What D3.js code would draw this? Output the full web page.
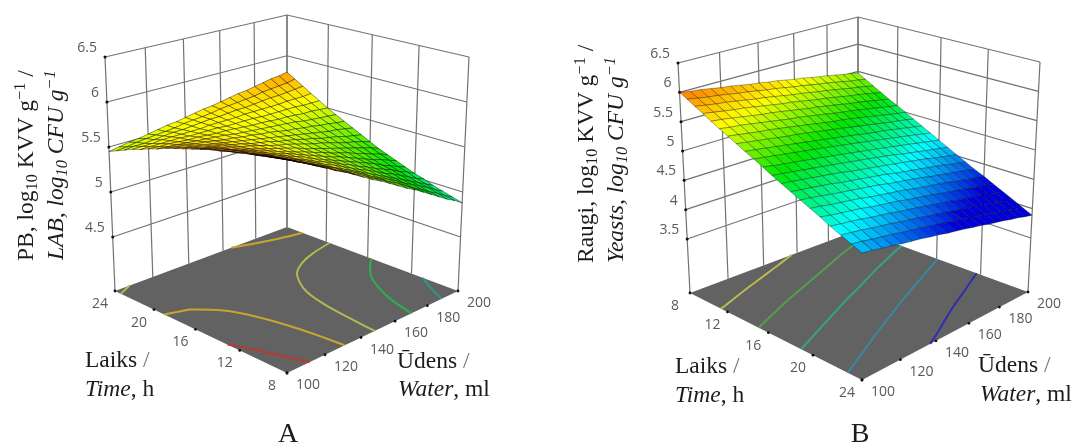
<!DOCTYPE html>
<html>
<head>
<meta charset="utf-8">
<script src="https://cdnjs.cloudflare.com/ajax/libs/d3/7.8.5/d3.min.js"></script>
<style>
  html, body { margin: 0; padding: 0; background: #fff; }
  svg { display: block; }
  .tick { font-family: "Open Sans", "Noto Sans", sans-serif; font-size: 14px; fill: #5a5a5a; }
  .lab { font-family: "Liberation Serif", serif; fill: #1c1c1c; }
</style>
</head>
<body>
<div id="chart"></div>
<script>
// tick labels shared by the two panels
var waterTicks = [100, 120, 140, 160, 180, 200];
var timeTicks = [8, 12, 16, 20, 24];
var zTicksA = [4.5, 5, 5.5, 6, 6.5];
var zTicksB = [3.5, 4, 4.5, 5, 5.5, 6, 6.5];

// contour levels on the floor and the colour each one is drawn with
var levelsA = [5, 5.23, 5.48, 5.68, 5.9];
var levelColorsA = ["#2c9a8a", "#2fae50", "#b4b84f", "#c8a52e", "#b53a2f"];
var levelsB = [4.32, 4.67, 5.02, 5.37, 5.7];
var levelColorsB = ["#2f2fae", "#3a86a0", "#35a38a", "#4fa14a", "#b9b94f"];

// surface A. one row per time step (8 to 24 h), one column per water step (100 to 200 ml)
var surfaceA = [
  [6.03,5.97,5.92,5.86,5.80,5.74,5.69,5.63,5.57,5.51,5.46,5.40,5.34,5.28,5.23,5.17,5.11,5.05,4.99,4.94,4.88],
  [6.01,5.96,5.90,5.85,5.79,5.74,5.68,5.63,5.57,5.52,5.46,5.41,5.35,5.30,5.24,5.18,5.13,5.07,5.02,4.96,4.91],
  [5.99,5.94,5.89,5.84,5.78,5.73,5.68,5.63,5.57,5.52,5.47,5.41,5.36,5.31,5.26,5.20,5.15,5.10,5.05,4.99,4.94],
  [5.97,5.92,5.87,5.82,5.77,5.72,5.67,5.62,5.57,5.52,5.47,5.42,5.37,5.32,5.27,5.22,5.17,5.12,5.07,5.02,4.97],
  [5.95,5.90,5.86,5.81,5.76,5.72,5.67,5.62,5.57,5.53,5.48,5.43,5.38,5.34,5.29,5.24,5.20,5.15,5.10,5.05,5.01],
  [5.93,5.89,5.84,5.80,5.75,5.71,5.66,5.62,5.57,5.53,5.49,5.44,5.40,5.35,5.31,5.26,5.22,5.18,5.13,5.09,5.04],
  [5.91,5.86,5.82,5.78,5.74,5.70,5.66,5.62,5.58,5.53,5.49,5.45,5.41,5.37,5.33,5.29,5.25,5.20,5.16,5.12,5.08],
  [5.88,5.84,5.81,5.77,5.73,5.69,5.65,5.62,5.58,5.54,5.50,5.46,5.42,5.39,5.35,5.31,5.27,5.23,5.20,5.16,5.12],
  [5.86,5.82,5.79,5.75,5.72,5.68,5.65,5.61,5.58,5.54,5.51,5.47,5.44,5.40,5.37,5.34,5.30,5.27,5.23,5.20,5.16],
  [5.83,5.80,5.77,5.73,5.70,5.67,5.64,5.61,5.58,5.55,5.52,5.48,5.45,5.42,5.39,5.36,5.33,5.30,5.27,5.24,5.20],
  [5.80,5.77,5.75,5.72,5.69,5.66,5.64,5.61,5.58,5.55,5.53,5.50,5.47,5.44,5.42,5.39,5.36,5.33,5.31,5.28,5.25],
  [5.77,5.75,5.72,5.70,5.68,5.65,5.63,5.60,5.58,5.56,5.53,5.51,5.49,5.46,5.44,5.41,5.39,5.37,5.34,5.32,5.30],
  [5.74,5.72,5.70,5.68,5.66,5.64,5.62,5.60,5.58,5.56,5.54,5.52,5.50,5.48,5.46,5.44,5.42,5.40,5.39,5.37,5.35],
  [5.71,5.69,5.68,5.66,5.65,5.63,5.61,5.60,5.58,5.57,5.55,5.54,5.52,5.50,5.49,5.47,5.46,5.44,5.43,5.41,5.40],
  [5.67,5.66,5.65,5.64,5.63,5.62,5.61,5.60,5.58,5.57,5.56,5.55,5.54,5.53,5.52,5.51,5.49,5.48,5.47,5.46,5.45],
  [5.64,5.63,5.63,5.62,5.61,5.61,5.60,5.59,5.59,5.58,5.57,5.56,5.56,5.55,5.54,5.54,5.53,5.52,5.52,5.51,5.50],
  [5.60,5.60,5.60,5.60,5.60,5.59,5.59,5.59,5.59,5.58,5.58,5.58,5.58,5.57,5.57,5.57,5.57,5.57,5.56,5.56,5.56],
  [5.57,5.57,5.57,5.58,5.58,5.58,5.58,5.58,5.59,5.59,5.59,5.59,5.60,5.60,5.60,5.60,5.60,5.61,5.61,5.61,5.62],
  [5.53,5.54,5.54,5.55,5.56,5.57,5.57,5.58,5.59,5.60,5.60,5.61,5.62,5.62,5.63,5.64,5.65,5.65,5.66,5.67,5.68],
  [5.49,5.50,5.52,5.53,5.54,5.55,5.56,5.58,5.59,5.60,5.61,5.63,5.64,5.65,5.66,5.67,5.69,5.70,5.71,5.72,5.74],
  [5.45,5.47,5.49,5.50,5.52,5.54,5.56,5.57,5.59,5.61,5.63,5.64,5.66,5.68,5.70,5.71,5.73,5.75,5.77,5.78,5.80]
];

// surface B, same layout
var surfaceB = [
  [6.00,5.97,5.95,5.92,5.89,5.87,5.84,5.81,5.79,5.76,5.74,5.71,5.68,5.66,5.63,5.60,5.58,5.55,5.52,5.50,5.47],
  [5.93,5.90,5.87,5.85,5.82,5.79,5.77,5.74,5.71,5.69,5.66,5.63,5.61,5.58,5.55,5.53,5.50,5.47,5.44,5.42,5.39],
  [5.86,5.83,5.80,5.78,5.75,5.72,5.69,5.67,5.64,5.61,5.58,5.56,5.53,5.50,5.48,5.45,5.42,5.39,5.37,5.34,5.31],
  [5.79,5.76,5.73,5.70,5.68,5.65,5.62,5.59,5.56,5.54,5.51,5.48,5.45,5.43,5.40,5.37,5.34,5.32,5.29,5.26,5.23],
  [5.71,5.69,5.66,5.63,5.60,5.57,5.55,5.52,5.49,5.46,5.43,5.41,5.38,5.35,5.32,5.29,5.27,5.24,5.21,5.18,5.15],
  [5.64,5.61,5.59,5.56,5.53,5.50,5.47,5.44,5.42,5.39,5.36,5.33,5.30,5.27,5.25,5.22,5.19,5.16,5.13,5.10,5.08],
  [5.57,5.54,5.51,5.48,5.46,5.43,5.40,5.37,5.34,5.31,5.28,5.25,5.23,5.20,5.17,5.14,5.11,5.08,5.05,5.02,5.00],
  [5.50,5.47,5.44,5.41,5.38,5.35,5.33,5.30,5.27,5.24,5.21,5.18,5.15,5.12,5.09,5.06,5.03,5.00,4.98,4.95,4.92],
  [5.43,5.40,5.37,5.34,5.31,5.28,5.25,5.22,5.19,5.16,5.13,5.10,5.07,5.04,5.01,4.99,4.96,4.93,4.90,4.87,4.84],
  [5.36,5.33,5.30,5.27,5.24,5.21,5.18,5.15,5.12,5.09,5.06,5.03,5.00,4.97,4.94,4.91,4.88,4.85,4.82,4.79,4.76],
  [5.29,5.25,5.22,5.19,5.16,5.13,5.10,5.07,5.04,5.01,4.98,4.95,4.92,4.89,4.86,4.83,4.80,4.77,4.74,4.71,4.68],
  [5.21,5.18,5.15,5.12,5.09,5.06,5.03,5.00,4.97,4.94,4.91,4.88,4.85,4.82,4.78,4.75,4.72,4.69,4.66,4.63,4.60],
  [5.14,5.11,5.08,5.05,5.02,4.99,4.96,4.92,4.89,4.86,4.83,4.80,4.77,4.74,4.71,4.68,4.65,4.61,4.58,4.55,4.52],
  [5.07,5.04,5.01,4.98,4.95,4.91,4.88,4.85,4.82,4.79,4.76,4.72,4.69,4.66,4.63,4.60,4.57,4.54,4.50,4.47,4.44],
  [5.00,4.97,4.94,4.90,4.87,4.84,4.81,4.78,4.75,4.71,4.68,4.65,4.62,4.59,4.55,4.52,4.49,4.46,4.43,4.40,4.36],
  [4.93,4.90,4.86,4.83,4.80,4.77,4.73,4.70,4.67,4.64,4.61,4.57,4.54,4.51,4.48,4.45,4.41,4.38,4.35,4.32,4.29],
  [4.86,4.82,4.79,4.76,4.73,4.69,4.66,4.63,4.60,4.56,4.53,4.50,4.47,4.43,4.40,4.37,4.34,4.30,4.27,4.24,4.21],
  [4.78,4.75,4.72,4.69,4.65,4.62,4.59,4.55,4.52,4.49,4.46,4.42,4.39,4.36,4.32,4.29,4.26,4.23,4.19,4.16,4.13],
  [4.71,4.68,4.65,4.61,4.58,4.55,4.51,4.48,4.45,4.41,4.38,4.35,4.31,4.28,4.25,4.21,4.18,4.15,4.11,4.08,4.05],
  [4.64,4.61,4.57,4.54,4.51,4.47,4.44,4.41,4.37,4.34,4.31,4.27,4.24,4.20,4.17,4.14,4.10,4.07,4.04,4.00,3.97],
  [4.57,4.54,4.50,4.47,4.43,4.40,4.37,4.33,4.30,4.26,4.23,4.20,4.16,4.13,4.09,4.06,4.03,3.99,3.96,3.92,3.89]
];

var svg = d3.select("#chart").append("svg")
    .attr("width", 1074)
    .attr("height", 448);

// the picture is a soft scan, so everything gets a very small blur
svg.append("filter").attr("id", "soft")
    .attr("x", "-5%").attr("y", "-5%").attr("width", "110%").attr("height", "110%")
  .append("feGaussianBlur").attr("stdDeviation", 0.45);

// four point perspective map from the unit square, corners in order front, right, back, left
function homography(c) {
  var dx1 = c[1][0] - c[2][0], dx2 = c[3][0] - c[2][0], sx = c[0][0] - c[1][0] + c[2][0] - c[3][0];
  var dy1 = c[1][1] - c[2][1], dy2 = c[3][1] - c[2][1], sy = c[0][1] - c[1][1] + c[2][1] - c[3][1];
  var den = dx1 * dy2 - dx2 * dy1;
  var g = (sx * dy2 - dx2 * sy) / den, h = (dx1 * sy - sx * dy1) / den;
  var a = c[1][0] - c[0][0] + g * c[1][0], b = c[3][0] - c[0][0] + h * c[3][0];
  var d = c[1][1] - c[0][1] + g * c[1][1], e = c[3][1] - c[0][1] + h * c[3][1];
  return function(p, q) {
    var w = g * p + h * q + 1;
    return [(a * p + b * q + c[0][0]) / w, (d * p + e * q + c[0][1]) / w];
  };
}

function addRuns(sel, runs) {
  var shift = 0;
  runs.forEach(function(r) {
    var t = sel.append("tspan").text(r[0]);
    var next = r[1] === "sub" ? 4 : r[1] === "sup" ? -8 : 0;
    if (next !== shift) t.attr("dy", next - shift);
    shift = next;
    if (r[1] === "sub" || r[1] === "sup") t.attr("font-size", "70%");
    if (r[2]) t.attr("font-style", "italic");
    if (r[3]) t.attr("fill", r[3]);
  });
}

function renderPanel(cfg) {
  var g = svg.append("g").attr("filter", "url(#soft)");
  var floor = homography(cfg.floor), top = homography(cfg.top);

  var xWater = d3.scaleLinear().domain([100, 200]).range([0, 1]);
  var xTime = d3.scaleLinear().domain([8, 24]).range(cfg.timeRange);
  var xZ = d3.scaleLinear().domain([cfg.zFloor, 6.5]).range([0, 1]);
  var color = d3.scaleLinear().domain(cfg.colorStops).clamp(true)
      .range(["#0000dc", "#00ffff", "#00e600", "#ffff00", "#ff0000"]);

  function project(water, time, z) {
    var p = xWater(water), q = xTime(time), r = xZ(z);
    var a = floor(p, q), b = top(p, q);
    return [a[0] + (b[0] - a[0]) * r, a[1] + (b[1] - a[1]) * r];
  }
  var line = d3.line();
  var contourLine = d3.line().curve(d3.curveBasis);
  var backTime = xTime.invert(1), frontTime = xTime.invert(0);

  // back walls
  var walls = g.append("g").attr("fill", "none").attr("stroke", "#727272").attr("stroke-width", 1.2);
  cfg.zTicks.forEach(function(z) {
    walls.append("path").attr("d", line([project(100, backTime, z), project(200, backTime, z), project(200, frontTime, z)]));
  });
  waterTicks.forEach(function(w) {
    walls.append("path").attr("d", line([project(w, backTime, cfg.zFloor), project(w, backTime, 6.5)]));
  });
  timeTicks.forEach(function(t) {
    walls.append("path").attr("d", line([project(200, t, cfg.zFloor), project(200, t, 6.5)]));
  });

  // floor
  g.append("path")
      .attr("d", line([project(100, frontTime, cfg.zFloor), project(200, frontTime, cfg.zFloor),
                       project(200, backTime, cfg.zFloor), project(100, backTime, cfg.zFloor)]) + "Z")
      .attr("fill", "#626262");

  // contours on the floor. d3.contours closes rings round the border, those bits are left out
  var n = cfg.surface.length;
  var flat = d3.merge(cfg.surface);
  var contours = d3.contours().size([n, n]).thresholds(cfg.levels)(flat);
  function gridPoint(c) {
    var i = Math.min(n - 1, Math.max(0, c[0] - 0.5)), j = Math.min(n - 1, Math.max(0, c[1] - 0.5));
    return [i, j];
  }
  function onBorder(a, b) {
    return (a[0] === b[0] && (a[0] === 0 || a[0] === n - 1)) || (a[1] === b[1] && (a[1] === 0 || a[1] === n - 1));
  }
  // every third point is enough, the rounded table makes the raw lines jitter
  function thin(run) {
    return run.filter(function(d, i) { return i % 3 === 0 || i === run.length - 1; });
  }
  contours.forEach(function(c, k) {
    var d = "";
    c.coordinates.forEach(function(poly) {
      poly.forEach(function(ring) {
        var run = [];
        ring.map(gridPoint).forEach(function(pt, idx, arr) {
          if (idx > 0 && onBorder(arr[idx - 1], pt)) {
            if (run.length > 1) d += contourLine(thin(run));
            run = [];
          }
          run.push(project(100 + pt[0] * 5, 8 + pt[1] * 0.8, cfg.zFloor));
        });
        if (run.length > 1) d += contourLine(thin(run));
      });
    });
    g.append("path").attr("d", d).attr("fill", "none")
        .attr("stroke", cfg.levelColors[k]).attr("stroke-width", 2);
  });

  // floor ticks and labels
  waterTicks.forEach(function(w) {
    var pt = project(w, frontTime, cfg.zFloor);
    g.append("circle").attr("cx", pt[0]).attr("cy", pt[1]).attr("r", 1.4).attr("fill", "#111");
    g.append("text").attr("class", "tick").attr("text-anchor", "middle")
        .attr("x", pt[0] + 21).attr("y", pt[1] + 16).text(w);
  });
  timeTicks.forEach(function(t) {
    var pt = project(100, t, cfg.zFloor);
    g.append("circle").attr("cx", pt[0]).attr("cy", pt[1]).attr("r", 1.4).attr("fill", "#111");
    g.append("text").attr("class", "tick").attr("text-anchor", "middle")
        .attr("x", pt[0] - 15).attr("y", pt[1] + 17).text(t);
  });

  // surface, far cells first
  var cells = [];
  d3.range(n - 1).forEach(function(j) {
    d3.range(n - 1).forEach(function(i) {
      var t = function(jj) { return 8 + jj * 0.8; }, w = function(ii) { return 100 + ii * 5; };
      var v = [cfg.surface[j][i], cfg.surface[j][i + 1], cfg.surface[j + 1][i + 1], cfg.surface[j + 1][i]];
      cells.push({
        pts: [project(w(i), t(j), v[0]), project(w(i + 1), t(j), v[1]),
              project(w(i + 1), t(j + 1), v[2]), project(w(i), t(j + 1), v[3])],
        depth: project(w(i + 0.5), t(j + 0.5), cfg.zFloor)[1],
        z: d3.mean(v)
      });
    });
  });
  cells.sort(function(a, b) { return a.depth - b.depth; });
  g.append("g").selectAll("path").data(cells).enter().append("path")
      .attr("d", function(d) { return line(d.pts) + "Z"; })
      .attr("fill", function(d) { return color(d.z); })
      .attr("stroke", "#000")
      .attr("stroke-opacity", cfg.meshOpacity)
      .attr("stroke-width", 0.7);

  // z axis on the left corner
  cfg.zTicks.forEach(function(z) {
    var pt = project(100, backTime, z);
    g.append("circle").attr("cx", pt[0]).attr("cy", pt[1]).attr("r", 1.5).attr("fill", "#111");
    g.append("text").attr("class", "tick").attr("text-anchor", "end")
        .attr("x", pt[0] - 8).attr("y", pt[1] - 5).text(z);
  });

  // texts
  cfg.yTitles.forEach(function(tt) {
    var te = g.append("text").attr("class", "lab").attr("font-size", 23.5)
        .attr("transform", "translate(" + tt.x + "," + tt.y + ") rotate(-90)");
    addRuns(te, tt.runs);
  });
  cfg.axisTitles.forEach(function(tt) {
    var te = g.append("text").attr("class", "lab").attr("font-size", 23.5).attr("x", tt.x).attr("y", tt.y);
    addRuns(te, tt.runs);
  });
  g.append("text").attr("class", "lab").attr("font-size", 28).attr("text-anchor", "middle")
      .attr("x", cfg.letter[1]).attr("y", cfg.letter[2]).text(cfg.letter[0]);
}

renderPanel({
  surface: surfaceA, levels: levelsA, levelColors: levelColorsA, zTicks: zTicksA, zFloor: 3.9,
  timeRange: [0, 1], colorStops: [4.4, 4.75, 5.15, 5.58, 6.15], meshOpacity: 0.6,
  floor: [[287, 373], [458, 291], [287, 227], [115, 291]],
  top: [[287, 112], [469, 57], [287, 15], [105, 57]],
  yTitles: [
    {x: 33, y: 261, runs: [["PB, log"], ["10", "sub"], [" KVV g"], ["−1", "sup"], [" /"]]},
    {x: 63, y: 260, runs: [["LAB, log", "", 1], ["10", "sub", 1], [" CFU", "", 1], [" g", "", 1], ["−1", "sup", 1]]}
  ],
  axisTitles: [
    {x: 85, y: 367, runs: [["Laiks "], ["/", "", 0, "#777"]]},
    {x: 85, y: 396, runs: [["Time", "", 1], [", h"]]},
    {x: 397, y: 368, runs: [["Ūdens "], ["/", "", 0, "#777"]]},
    {x: 398, y: 396, runs: [["Water", "", 1], [", ml"]]}
  ],
  letter: ["A", 288, 442]
});

renderPanel({
  surface: surfaceB, levels: levelsB, levelColors: levelColorsB, zTicks: zTicksB, zFloor: 2.58,
  timeRange: [1, 0], colorStops: [4.25, 4.72, 5.2, 5.65, 6.3], meshOpacity: 0.45,
  floor: [[862, 380], [1028, 292], [858, 230], [690, 293]],
  top: [[862, 130], [1040, 62], [858, 17], [678, 63]],
  yTitles: [
    {x: 593, y: 263, runs: [["Raugi, log"], ["10", "sub"], [" KVV g"], ["−1", "sup"], [" /"]]},
    {x: 623, y: 263, runs: [["Yeasts, log", "", 1], ["10", "sub", 1], [" CFU", "", 1], [" g", "", 1], ["−1", "sup", 1]]}
  ],
  axisTitles: [
    {x: 675, y: 373, runs: [["Laiks "], ["/", "", 0, "#777"]]},
    {x: 675, y: 402, runs: [["Time", "", 1], [", h"]]},
    {x: 978, y: 372, runs: [["Ūdens "], ["/", "", 0, "#777"]]},
    {x: 980, y: 401, runs: [["Water", "", 1], [", ml"]]}
  ],
  letter: ["B", 860, 441.5]
});
</script>
</body>
</html>
